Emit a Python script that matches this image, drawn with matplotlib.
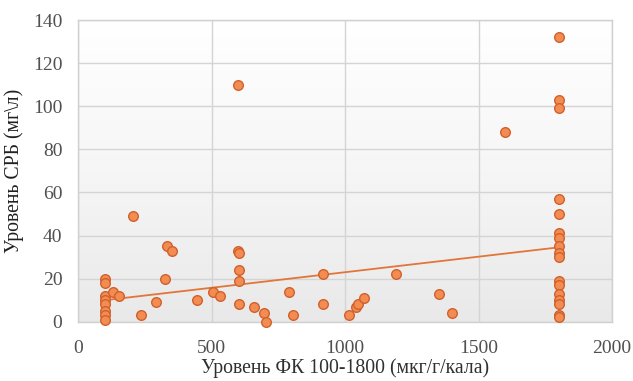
import numpy as np
import matplotlib.pyplot as plt

# ---------------------------------------------------------------
# Data.
# ---------------------------------------------------------------
fk = [100, 100, 100, 100, 100, 100, 100, 100,
      131, 154, 204, 235, 293, 324, 331, 350, 445, 505, 530,
      598, 598, 601, 601, 601, 601, 660, 695, 703, 789, 806,
      918, 918, 1013, 1041, 1050, 1071, 1189, 1351, 1401, 1599,
      1800, 1800, 1800, 1800, 1800, 1800, 1800, 1800, 1800,
      1800, 1800, 1800, 1800, 1800, 1800, 1800, 1800]
crp = [20, 18, 12, 10, 8, 5, 3, 1,
       14, 12, 49, 3, 9, 20, 35, 33, 10, 14, 12,
       110, 33, 32, 24, 19, 8, 7, 4, 0, 14, 3,
       22, 8, 3, 7, 8, 11, 22, 13, 4, 88,
       132, 103, 99, 57, 50, 41, 39, 35, 32,
       30, 19, 17, 13, 10, 8, 3, 2]

# linear trend line as drawn in the chart (end points)
trend_x = [100, 1800]
trend_y = [10, 34.5]

xticks = [0, 500, 1000, 1500, 2000]
yticks = [0, 20, 40, 60, 80, 100, 120, 140]

plt.rcParams['font.family'] = ['Liberation Serif', 'DejaVu Serif']

fig = plt.figure(figsize=(6.33, 3.81), dpi=100)
ax = fig.add_axes([0.1237, 0.1556, 0.843, 0.7919])

# gradient background of the plot area
grad = np.linspace(0, 1, 256).reshape(-1, 1)
ax.imshow(grad, cmap=plt.cm.colors.LinearSegmentedColormap.from_list(
    'bg', ['#e9e9e9', '#f6f6f6', '#ffffff']), aspect='auto',
    extent=[0, 2000, 0, 140], origin='lower', zorder=0)

ax.set_xlim(0, 2000)
ax.set_ylim(0, 140)
ax.set_xticks(xticks)
ax.set_yticks(yticks)
ax.grid(True, color='#d4d4d4', lw=1.0, zorder=1)
ax.tick_params(length=0, labelsize=14, colors='#505050')
ax.tick_params(axis='x', pad=13)
ax.tick_params(axis='y', pad=11.5)
for s in ax.spines.values():
    s.set_color('#d0d0d0')
    s.set_linewidth(1.0)

ax.plot(trend_x, trend_y, color='#E2753A', lw=1.3, zorder=2)

ax.scatter(fk, crp, s=48, facecolor='#F28C52', edgecolor='#D0612A',
           linewidth=1.0, zorder=3, clip_on=False)

ax.set_xlabel('Уровень ФК 100-1800 (мкг/г/кала)', fontsize=14.2,
              color='#303030', labelpad=1)
ax.set_ylabel('Уровень СРБ (мг\\л)', fontsize=14.2, color='#202020',
              labelpad=6)

fig.savefig('out.png', dpi=100)
